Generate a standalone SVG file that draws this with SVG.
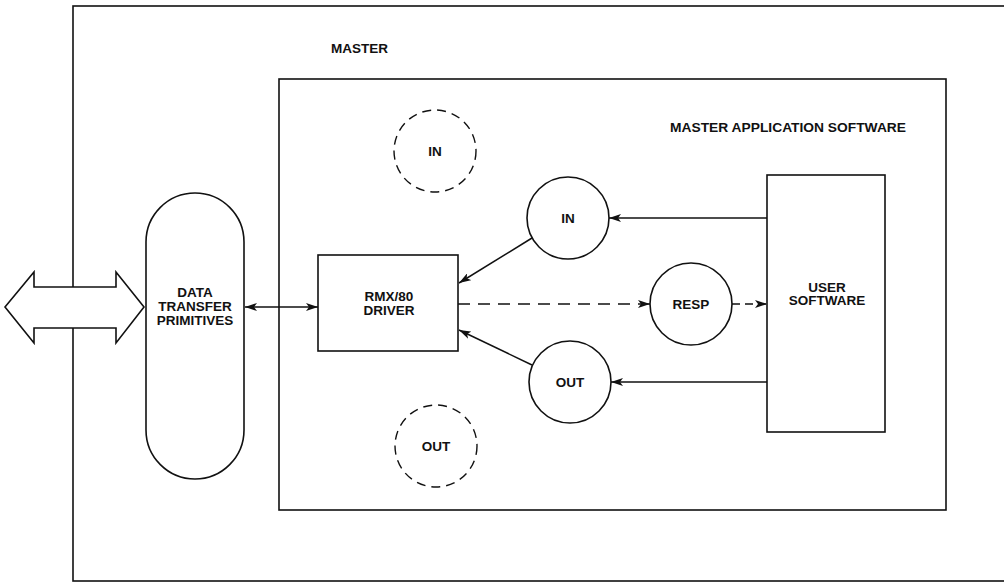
<svg xmlns="http://www.w3.org/2000/svg" width="1004" height="584" viewBox="0 0 1004 584">
<style>
.ln{fill:none;stroke:#111;stroke-width:1.5}
.box{fill:#fff;stroke:#111;stroke-width:1.6}
.dc{fill:none;stroke:#111;stroke-width:1.4;stroke-dasharray:9 6}
.dl{fill:none;stroke:#111;stroke-width:1.5;stroke-dasharray:12 8}
text{font-family:"Liberation Sans",Arial,sans-serif;font-weight:bold;font-size:13.5px;fill:#111;text-anchor:middle}
.lab{text-anchor:start}
</style>
<defs>
<marker id="ah" viewBox="0 0 12 8" refX="12" refY="4" markerWidth="12" markerHeight="8" markerUnits="userSpaceOnUse" orient="auto-start-reverse">
<path d="M0,0 L12,4 L0,8 L3,4 Z" fill="#111"/>
</marker>
</defs>
<rect width="1004" height="584" fill="#fff"/>
<g id="master">
<rect class="box" x="73" y="6" width="960" height="575"/>
<text class="lab" x="331" y="53">MASTER</text>
</g>
<g id="app">
<rect class="box" x="279" y="79" width="667" height="431"/>
<text class="lab" x="670" y="132" textLength="236" lengthAdjust="spacingAndGlyphs">MASTER APPLICATION SOFTWARE</text>
</g>
<g id="bus">
<polygon class="box" points="5,307 34,272 34,287 116,287 116,272 144,307 116,343 116,328 34,328 34,343"/>
</g>
<g id="dtp">
<path class="box" d="M146,242 A49,49 0 0 1 244,242 L244,430 A49,49 0 0 1 146,430 Z"/>
<text x="195" y="297">DATA</text>
<text x="195" y="311">TRANSFER</text>
<text x="195" y="325">PRIMITIVES</text>
</g>
<g id="driver">
<rect class="box" x="318" y="255" width="140" height="96"/>
<text x="389" y="301">RMX/80</text>
<text x="389" y="315">DRIVER</text>
</g>
<g id="in-dashed">
<circle class="dc" cx="435" cy="151" r="41"/>
<text x="435" y="156">IN</text>
</g>
<g id="out-dashed">
<circle class="dc" cx="436" cy="446" r="41"/>
<text x="436" y="451">OUT</text>
</g>
<g id="in">
<circle class="box" cx="568" cy="218" r="41"/>
<text x="568" y="223">IN</text>
</g>
<g id="out">
<circle class="box" cx="570" cy="382" r="41"/>
<text x="570" y="387">OUT</text>
</g>
<g id="resp">
<circle class="box" cx="691" cy="304" r="41"/>
<text x="691" y="309">RESP</text>
</g>
<g id="user">
<rect class="box" x="767" y="175" width="118" height="257"/>
<text x="827" y="292">USER</text>
<text x="827" y="305">SOFTWARE</text>
</g>
<g id="connectors">
<line class="ln" x1="245" y1="307" x2="318" y2="307" marker-start="url(#ah)" marker-end="url(#ah)"/>
<line class="ln" x1="532" y1="238" x2="459" y2="283" marker-end="url(#ah)"/>
<line class="ln" x1="532" y1="365" x2="459" y2="330" marker-end="url(#ah)"/>
<line class="dl" x1="458" y1="304" x2="650" y2="304" marker-end="url(#ah)"/>
<line class="dl" x1="732" y1="304" x2="767" y2="304" style="stroke-dasharray:8 5" marker-end="url(#ah)"/>
<line class="ln" x1="767" y1="218" x2="609" y2="218" marker-end="url(#ah)"/>
<line class="ln" x1="767" y1="382" x2="611" y2="382" marker-end="url(#ah)"/>
</g>
</svg>
